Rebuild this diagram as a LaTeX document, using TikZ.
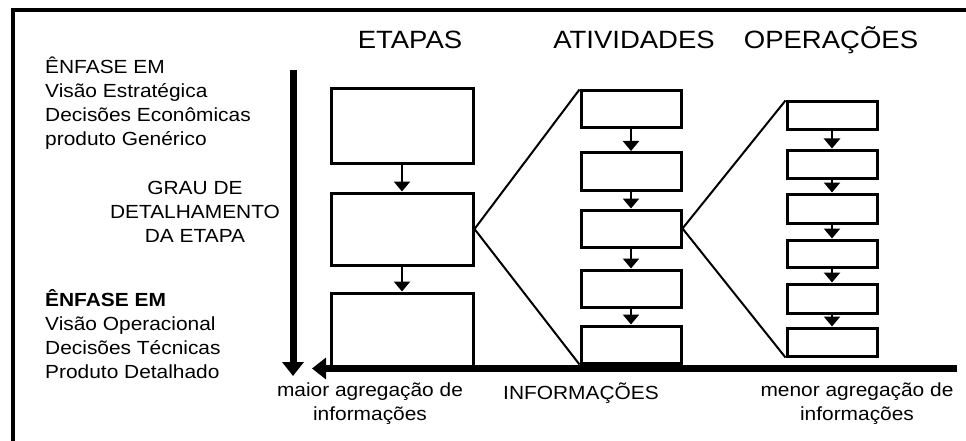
\documentclass[tikz,border=0pt]{standalone}
\usepackage{fontspec}
\setmainfont{Liberation Sans}[FakeStretch=1.1]
\usetikzlibrary{arrows.meta}

\begin{document}
\begin{tikzpicture}[x=1pt,y=1pt,yscale=-1,xscale=1,
  stagebox/.style={draw,line width=3pt,inner sep=0pt},
  steparrow/.style={line width=2.5pt,-{Triangle[width=16pt,length=10pt]}},
  zoomline/.style={line width=2pt},
  mainarrow/.style={line width=7pt,-{Triangle[width=21pt,length=14pt]}},
  coltitle/.style={font=\fontsize{25}{28}\selectfont,inner sep=0pt,anchor=base},
  notetext/.style={font=\fontsize{19}{24}\selectfont,inner sep=0pt}]
\useasboundingbox (0,0) rectangle (966,441);

%Frame
\draw [line width=4pt] (12.5,441) -- (12.5,10.5) -- (966,10.5) ;

%Shape: Rectangle (etapas)
\node [stagebox,minimum width=142pt,minimum height=74pt] (e1) at (402,126) {};
\node [stagebox,minimum width=142pt,minimum height=72pt] (e2) at (402,229) {};
\node [stagebox,minimum width=142pt,minimum height=73pt] (e3) at (402,329.5) {};
%Shape: Rectangle (atividades)
\node [stagebox,minimum width=100pt,minimum height=37pt] (a1) at (631,109.5) {};
\node [stagebox,minimum width=100pt,minimum height=38pt] (a2) at (631,171.5) {};
\node [stagebox,minimum width=100pt,minimum height=37pt] (a3) at (631,228.5) {};
\node [stagebox,minimum width=100pt,minimum height=37pt] (a4) at (631,288.5) {};
\node [stagebox,minimum width=100pt,minimum height=37pt] (a5) at (631,344.5) {};
%Shape: Rectangle (operacoes)
\node [stagebox,minimum width=90pt,minimum height=28pt] (o1) at (832,116) {};
\node [stagebox,minimum width=90pt,minimum height=28pt] (o2) at (832,164) {};
\node [stagebox,minimum width=90pt,minimum height=29pt] (o3) at (832,208.5) {};
\node [stagebox,minimum width=90pt,minimum height=27pt] (o4) at (832,253.5) {};
\node [stagebox,minimum width=90pt,minimum height=29pt] (o5) at (832,298.5) {};
\node [stagebox,minimum width=90pt,minimum height=28pt] (o6) at (832,342) {};

%Arrows between boxes
\draw [steparrow] (e1) -- (e2) ;
\draw [steparrow] (e2) -- (e3) ;
\draw [steparrow] (a1) -- (a2) ;
\draw [steparrow] (a2) -- (a3) ;
\draw [steparrow] (a3) -- (a4) ;
\draw [steparrow] (a4) -- (a5) ;
\draw [steparrow] (o1) -- (o2) ;
\draw [steparrow] (o2) -- (o3) ;
\draw [steparrow] (o3) -- (o4) ;
\draw [steparrow] (o4) -- (o5) ;
\draw [steparrow] (o5) -- (o6) ;

%Straight Lines (zoom)
\draw [zoomline] (a1.north west) -- (e2.east) -- (a5.south west) ;
\draw [zoomline] (o1.north west) -- (a3.east) -- (o6.south west) ;

%Main arrows
\coordinate (graustart) at (293,70) ;
\coordinate (grauend) at (293,376) ;
\coordinate (infostart) at (957,368.5) ;
\coordinate (infoend) at (312,368.5) ;
\draw [mainarrow] (graustart) -- (grauend) ;
\draw [mainarrow] (infostart) -- (infoend) ;

% Text Node
\node [coltitle] (etapas) at (410,49) {ETAPAS};
\node [coltitle] (atividades) at (634,49) {ATIVIDADES};
\node [coltitle] (operacoes) at (831,49) {OPERAÇÕES};
% Text Node (anchor base = last line)
\node [notetext,anchor=base west,align=left] (enfasetop) at (45,146) {ÊNFASE EM\\Visão Estratégica\\Decisões Econômicas\\produto Genérico};
\node [notetext,anchor=base,align=center] (grau) at (195,242) {GRAU DE\\DETALHAMENTO\\DA ETAPA};
\node [notetext,anchor=base west,align=left] (enfasebot) at (45,378) {\textbf{ÊNFASE EM}\\Visão Operacional\\Decisões Técnicas\\Produto Detalhado};
% Text Node
\node [notetext,anchor=base,align=center] (maior) at (370,420) {maior agregação de\\informações};
\node [notetext,anchor=base] (informacoes) at (581,399) {INFORMAÇÕES};
\node [notetext,anchor=base,align=center] (menor) at (857,420) {menor agregação de\\informações};

\end{tikzpicture}
\end{document}
